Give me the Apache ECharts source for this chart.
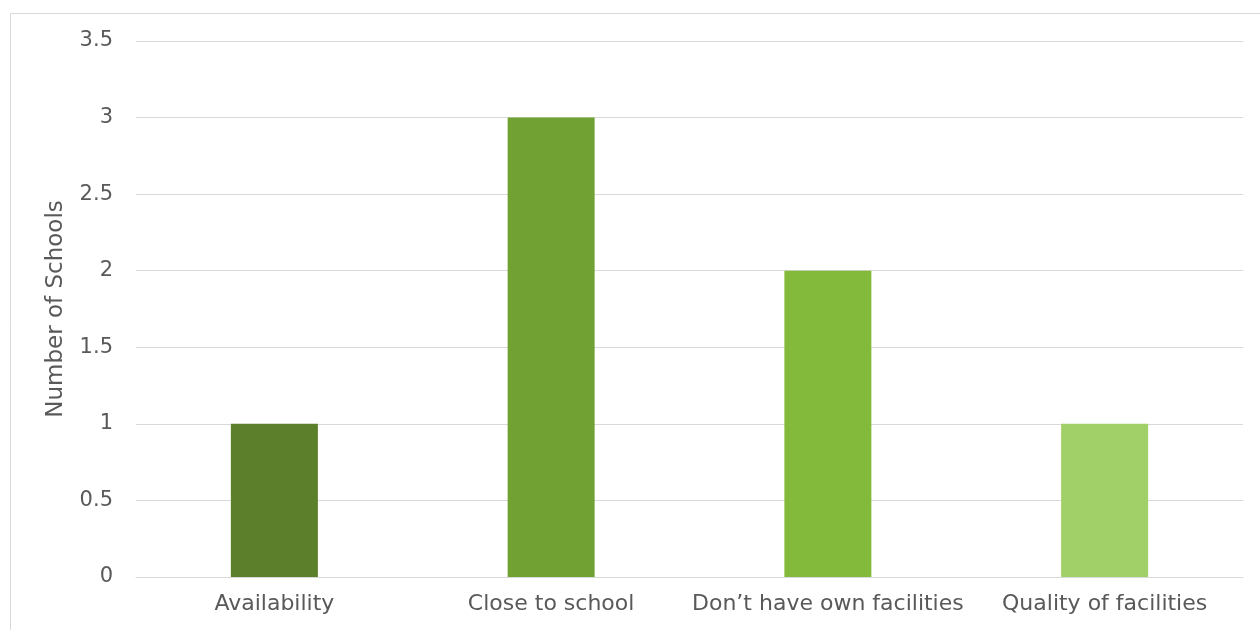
<!DOCTYPE html>
<html><head><meta charset="utf-8">
<script src="https://cdn.jsdelivr.net/npm/echarts@6/dist/echarts.min.js"></script>
<style>html,body{margin:0;padding:0;background:#fff}#c{width:1260px;height:630px}</style>
</head><body><div id="c"></div>
<script>
const categories = ["Availability", "Close to school", "Don\u2019t have own facilities", "Quality of facilities"];
const values = [1, 3, 2, 1];
const barColors = ["#5B7F2B", "#71A133", "#84BA3C", "#A1CF68"];
const yTicks = [0, 0.5, 1, 1.5, 2, 2.5, 3, 3.5];

const chart = echarts.init(document.getElementById('c'), null, {renderer: 'canvas'});
const font = "'DejaVu Sans', sans-serif";
chart.setOption({
  animation: false,
  graphic: [{type: 'rect', left: 8, top: 11, shape: {width: 1300, height: 700}, style: {fill: 'none', stroke: '#D9D9D9', lineWidth: 1}}],
  grid: {left: 136, right: 17, top: 41, bottom: 53},
  xAxis: {
    type: 'category', data: categories,
    axisTick: {show: false},
    axisLine: {lineStyle: {color: '#D9D9D9', width: 1}},
    axisLabel: {color: '#595959', fontSize: 22, fontFamily: font, margin: 16, interval: 0}
  },
  yAxis: {
    type: 'value', min: 0, max: 3.5, interval: 0.5,
    name: 'Number of Schools', nameLocation: 'middle', nameGap: 68, nameRotate: 90,
    nameTextStyle: {color: '#595959', fontSize: 23, fontFamily: font},
    axisLine: {show: false}, axisTick: {show: false},
    splitLine: {lineStyle: {color: '#D9D9D9', width: 1}},
    axisLabel: {color: '#595959', fontSize: 21, fontFamily: font, margin: 23,
      formatter: v => yTicks.includes(v) ? String(v) : ''}
  },
  series: [{
    type: 'bar', barWidth: 87,
    data: values.map((v, i) => ({value: v, itemStyle: {color: barColors[i]}}))
  }]
});
</script></body></html>
